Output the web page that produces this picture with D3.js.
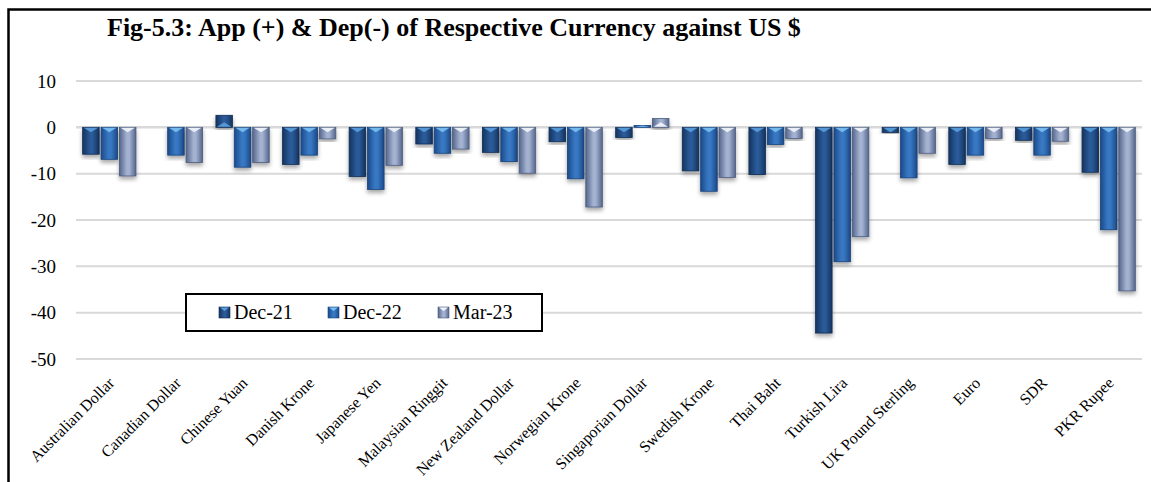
<!DOCTYPE html>
<html>
<head>
<meta charset="utf-8">
<script src="https://cdn.jsdelivr.net/npm/d3@7"></script>
<style>
  html, body { margin: 0; padding: 0; background: #fff; }
  svg { display: block; }
  text { font-family: "Liberation Serif", "Times New Roman", serif; fill: #000; }
</style>
</head>
<body>
<svg id="chart" width="1151" height="482"></svg>
<script>
// Currencies shown along the category axis
const currencies = [
  "Australian Dollar", "Canadian Dollar", "Chinese Yuan", "Danish Krone",
  "Japanese Yen", "Malaysian Ringgit", "New Zealand Dollar", "Norwegian Krone",
  "Singaporian Dollar", "Swedish Krone", "Thai Baht", "Turkish Lira",
  "UK Pound Sterling", "Euro", "SDR", "PKR Rupee"
];

// Period labels
const periods = ["Dec-21", "Dec-22", "Mar-23"];

// Appreciation (+) / depreciation (-) in percent, one array per period
const dec21 = [-5.8, null, 2.6, -8.0, -10.6, -3.6, -5.4, -3.1, -2.2, -9.4, -10.2, -44.4, -1.1, -8.0, -2.8, -9.7];
const dec22 = [-6.9, -6.0, -8.6, -6.0, -13.4, -5.6, -7.4, -11.1, 0.4, -13.8, -3.7, -29.0, -10.9, -6.0, -6.0, -22.1];
const mar23 = [-10.5, -7.6, -7.6, -2.5, -8.2, -4.7, -9.9, -17.2, 1.9, -10.8, -2.4, -23.6, -5.6, -2.4, -3.0, -35.3];

// Value-axis ticks
const yTicks = [10, 0, -10, -20, -30, -40, -50];

const seriesValues = [dec21, dec22, mar23];
const rows = currencies.map((c, i) => ({
  currency: c,
  values: periods.map((p, k) => ({ period: p, value: seriesValues[k][i] }))
}));

const svg = d3.select("#chart");
const W = 1151, H = 482;
const plot = { left: 76, right: 1142, top: 81, bottom: 359 };

// Shading for the three series: darker edges, lighter middle
const palettes = {
  "Dec-21": { edge: "#15345f", mid: "#2a5a98", tip: "#5b9fdc", stroke: "#112d55" },
  "Dec-22": { edge: "#1c4a89", mid: "#3878c3", tip: "#7cc0f2", stroke: "#18437c" },
  "Mar-23": { edge: "#55668b", mid: "#a4b2d1", tip: "#f2f5fb", stroke: "#4b5b7e" }
};

const defs = svg.append("defs");
periods.forEach((p, k) => {
  const pal = palettes[p];
  const g = defs.append("linearGradient")
    .attr("id", "grad" + k)
    .attr("x1", "0%").attr("x2", "100%").attr("y1", "0%").attr("y2", "0%");
  g.append("stop").attr("offset", "0%").attr("stop-color", pal.edge);
  g.append("stop").attr("offset", "45%").attr("stop-color", pal.mid);
  g.append("stop").attr("offset", "60%").attr("stop-color", pal.mid);
  g.append("stop").attr("offset", "100%").attr("stop-color", pal.edge);
});
const shadow = defs.append("filter").attr("id", "shadow")
  .attr("x", "-30%").attr("y", "-10%").attr("width", "160%").attr("height", "130%");
shadow.append("feDropShadow")
  .attr("dx", 0).attr("dy", 3).attr("stdDeviation", 2)
  .attr("flood-color", "#000").attr("flood-opacity", 0.35);

// White background
svg.append("rect").attr("width", W).attr("height", H).attr("fill", "#fff");

// Scales
const x0 = d3.scaleBand()
  .domain(currencies)
  .range([plot.left, plot.right])
  .paddingInner(0.2)
  .paddingOuter(0.1);
const x1 = d3.scaleBand()
  .domain(periods)
  .range([0, x0.bandwidth()])
  .paddingInner(0.1);
const y = d3.scaleLinear()
  .domain([-50, 10])
  .range([plot.bottom, plot.top]);

// Horizontal gridlines
svg.append("g")
  .selectAll("line")
  .data(yTicks)
  .join("line")
  .attr("x1", plot.left).attr("x2", plot.right)
  .attr("y1", d => y(d)).attr("y2", d => y(d))
  .attr("stroke", "#d9d9d9")
  .attr("stroke-width", d => d === 0 ? 2.5 : 2);

// Value axis labels (plain hyphen for negatives)
const yAxis = d3.axisLeft(y).tickValues(yTicks).tickSize(0).tickPadding(0).tickFormat(d => String(d));
svg.append("g")
  .attr("transform", `translate(${56},0)`)
  .call(yAxis)
  .call(g => g.select(".domain").remove())
  .selectAll("text")
  .style("font-family", '"Liberation Serif", "Times New Roman", serif')
  .style("font-size", "19px")
  .attr("fill", "#000");

// Bars
const groups = svg.append("g")
  .selectAll("g")
  .data(rows)
  .join("g")
  .attr("transform", d => `translate(${x0(d.currency)},0)`);

const bars = groups.selectAll("g.bar")
  .data(d => d.values.filter(v => v.value !== null))
  .join("g")
  .attr("class", "bar");

bars.append("rect")
  .attr("x", d => x1(d.period))
  .attr("width", x1.bandwidth())
  .attr("y", d => Math.min(y(d.value), y(0)))
  .attr("height", d => Math.abs(y(d.value) - y(0)))
  .attr("fill", d => `url(#grad${periods.indexOf(d.period)})`)
  .attr("stroke", d => palettes[d.period].stroke)
  .attr("stroke-width", 0.8)
  .attr("filter", "url(#shadow)");

// Bevel highlight at the axis end of each bar
bars.append("path")
  .attr("d", d => {
    const bx = x1(d.period), bw = x1.bandwidth();
    const y0 = y(0);
    const len = Math.abs(y(d.value) - y0);
    const depth = Math.min(5, len);
    const dir = d.value < 0 ? 1 : -1;
    return `M${bx + 1},${y0 + dir * 0.5} L${bx + bw - 1},${y0 + dir * 0.5} L${bx + bw / 2},${y0 + dir * depth} Z`;
  })
  .attr("fill", d => palettes[d.period].tip)
  .attr("opacity", 0.9);

// Category labels, rotated
svg.append("g")
  .selectAll("text")
  .data(currencies)
  .join("text")
  .attr("transform", d => `translate(${x0(d) + x0.bandwidth() / 2 + 2},${380}) rotate(-45)`)
  .attr("text-anchor", "end")
  .attr("dy", "0.35em")
  .style("font-size", "16px")
  .text(d => d);

// Title
svg.append("text")
  .attr("x", 107)
  .attr("y", 36)
  .style("font-size", "26px")
  .style("font-weight", "bold")
  .text("Fig-5.3: App (+) & Dep(-) of Respective Currency against US $");

// Legend
const legend = svg.append("g");
legend.append("rect")
  .attr("x", 186).attr("y", 294)
  .attr("width", 356).attr("height", 37)
  .attr("fill", "#fff")
  .attr("stroke", "#000")
  .attr("stroke-width", 2);
const legendX = [219, 328, 438];
const items = legend.selectAll("g.item")
  .data(periods)
  .join("g")
  .attr("class", "item")
  .attr("transform", (d, i) => `translate(${legendX[i]},307)`);
items.append("rect")
  .attr("width", 11).attr("height", 11)
  .attr("fill", (d, i) => `url(#grad${i})`)
  .attr("stroke", d => palettes[d].stroke)
  .attr("stroke-width", 0.6);
items.append("path")
  .attr("d", "M1,0.5 L10,0.5 L5.5,4 Z")
  .attr("fill", d => palettes[d].tip);
items.append("text")
  .attr("x", 15)
  .attr("y", 12)
  .style("font-size", "20px")
  .text(d => d);

// Outer frame
svg.append("rect")
  .attr("x", 8.5).attr("y", 9.5)
  .attr("width", 1160).attr("height", 490)
  .attr("fill", "none")
  .attr("stroke", "#000")
  .attr("stroke-width", 2.5);
</script>
</body>
</html>
